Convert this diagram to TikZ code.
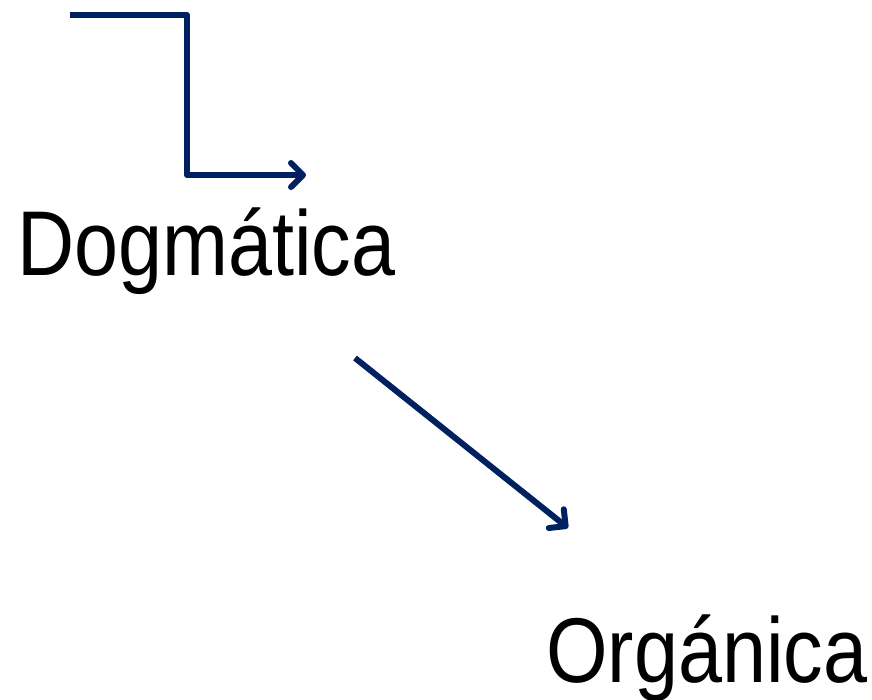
\documentclass[tikz,border=0pt]{standalone}
\usepackage{fontspec}
\setmainfont{Liberation Sans}
\usetikzlibrary{arrows.meta}
\definecolor{navy}{HTML}{002060}
\begin{document}
\begin{tikzpicture}[x=1pt,y=-1pt,
  conn/.style={draw=navy,line width=6pt,line join=round,-{Straight Barb[length=12pt,width=24pt,round]}},
  lbl/.style={inner sep=0pt,font=\fontsize{92}{100}\selectfont,xscale=0.86,anchor=base west}]
\useasboundingbox (0,0) rectangle (872,699);
\coordinate (s) at (70,15);
\coordinate (e) at (306,175);
\draw[conn] (s) -| (187,175) -- (e);
\node[lbl] (dog) at (17,275) {Dogmática};
\node[lbl] (org) at (546,682) {Orgánica};
\coordinate (a1) at (355,358);
\coordinate (a2) at (568,528);
\draw[conn] (a1) -- (a2);
\end{tikzpicture}
\end{document}
